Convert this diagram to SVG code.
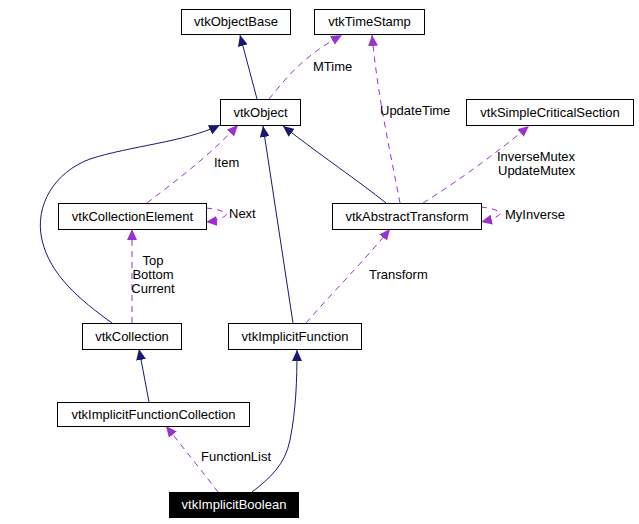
<svg xmlns="http://www.w3.org/2000/svg" width="639" height="524" viewBox="0 0 639 524">
<style>
.n rect{fill:#fff;stroke:#000;stroke-width:1}
text{font-family:"Liberation Sans",Arial,sans-serif;font-size:13px;fill:#000}
.n text{text-anchor:middle}
.inh{fill:none;stroke:#191970;stroke-width:1;marker-end:url(#ah)}
.use{fill:none;stroke:#9a32cd;stroke-width:1;stroke-dasharray:6,5;marker-end:url(#ap)}
.c{text-anchor:middle}
</style>
<defs>
<marker id="ah" markerUnits="userSpaceOnUse" markerWidth="12" markerHeight="10" refX="11" refY="5" orient="auto">
<path d="M0,0 L11,5 L0,10 z" fill="#191970"/>
</marker>
<marker id="ap" markerUnits="userSpaceOnUse" markerWidth="12" markerHeight="10" refX="11" refY="5" orient="auto">
<path d="M0,0 L11,5 L0,10 z" fill="#9a32cd"/>
</marker>
</defs>
<rect width="639" height="524" fill="#fff"/>
<g id="connectors">
<path class="inh" d="M257,99 L240,35"/>
<path class="use" d="M269,99 C285,80 300,58 342,35"/>
<path class="use" d="M400,203 C392,160 378,100 372,35"/>
<path class="inh" d="M386,203 C360,182 320,155 283,126"/>
<path class="use" d="M423,203 C460,180 500,150 529,126"/>
<path class="use" d="M481,207 C490,208 498,210 501,213 C498,217 490,220 481,222"/>
<path class="use" d="M147,203 C170,185 205,160 238,125"/>
<path class="use" d="M206,208 C216,209 224,211 227,214 C224,218 216,221 206,222"/>
<path class="use" d="M132,323 L132,229"/>
<path class="inh" d="M112,323 C80,300 50,275 42,240 C34,205 55,172 90,159 C130,146 185,142 220,125"/>
<path class="inh" d="M293,323 L263,126"/>
<path class="use" d="M306,323 C330,295 365,260 390,229"/>
<path class="inh" d="M149,402 L139,349"/>
<path class="use" d="M218,492 C205,475 185,450 166,426"/>
<path class="inh" d="M252,492 C270,478 285,465 290,440 C296,410 297,380 297,350"/>
<text x="313" y="71">MTime</text>
<text x="380" y="115">UpdateTime</text>
<text x="497" y="161">InverseMutex</text>
<text x="498" y="175">UpdateMutex</text>
<text x="505" y="219">MyInverse</text>
<text x="214" y="167">Item</text>
<text x="229" y="218">Next</text>
<text class="c" x="153" y="265">Top</text>
<text class="c" x="153" y="279">Bottom</text>
<text class="c" x="153" y="293">Current</text>
<text x="369" y="279">Transform</text>
<text x="201" y="461">FunctionList</text>
</g>
<g id="vtkObjectBase" class="n"><rect x="181.5" y="9.5" width="109" height="25"/><text x="236" y="26">vtkObjectBase</text></g>
<g id="vtkTimeStamp" class="n"><rect x="314.5" y="9.5" width="110" height="25"/><text x="369.5" y="26">vtkTimeStamp</text></g>
<g id="vtkObject" class="n"><rect x="220.5" y="99.5" width="80" height="26"/><text x="260.5" y="117">vtkObject</text></g>
<g id="vtkSimpleCriticalSection" class="n"><rect x="466.5" y="99.5" width="167" height="26"/><text x="550" y="117">vtkSimpleCriticalSection</text></g>
<g id="vtkAbstractTransform" class="n"><rect x="332.5" y="203.5" width="149" height="26"/><text x="407" y="221">vtkAbstractTransform</text></g>
<g id="vtkCollectionElement" class="n"><rect x="58.5" y="203.5" width="148" height="26"/><text x="132.5" y="221">vtkCollectionElement</text></g>
<g id="vtkCollection" class="n"><rect x="82.5" y="323.5" width="99" height="26"/><text x="132" y="341">vtkCollection</text></g>
<g id="vtkImplicitFunction" class="n"><rect x="228.5" y="323.5" width="133" height="26"/><text x="295" y="341">vtkImplicitFunction</text></g>
<g id="vtkImplicitFunctionCollection" class="n"><rect x="57.5" y="402.5" width="192" height="24"/><text x="153.5" y="419">vtkImplicitFunctionCollection</text></g>
<g id="vtkImplicitBoolean" class="n"><rect x="169.5" y="492.5" width="129" height="25" style="fill:#000"/><text x="234" y="509" style="fill:#fff">vtkImplicitBoolean</text></g>
</svg>
